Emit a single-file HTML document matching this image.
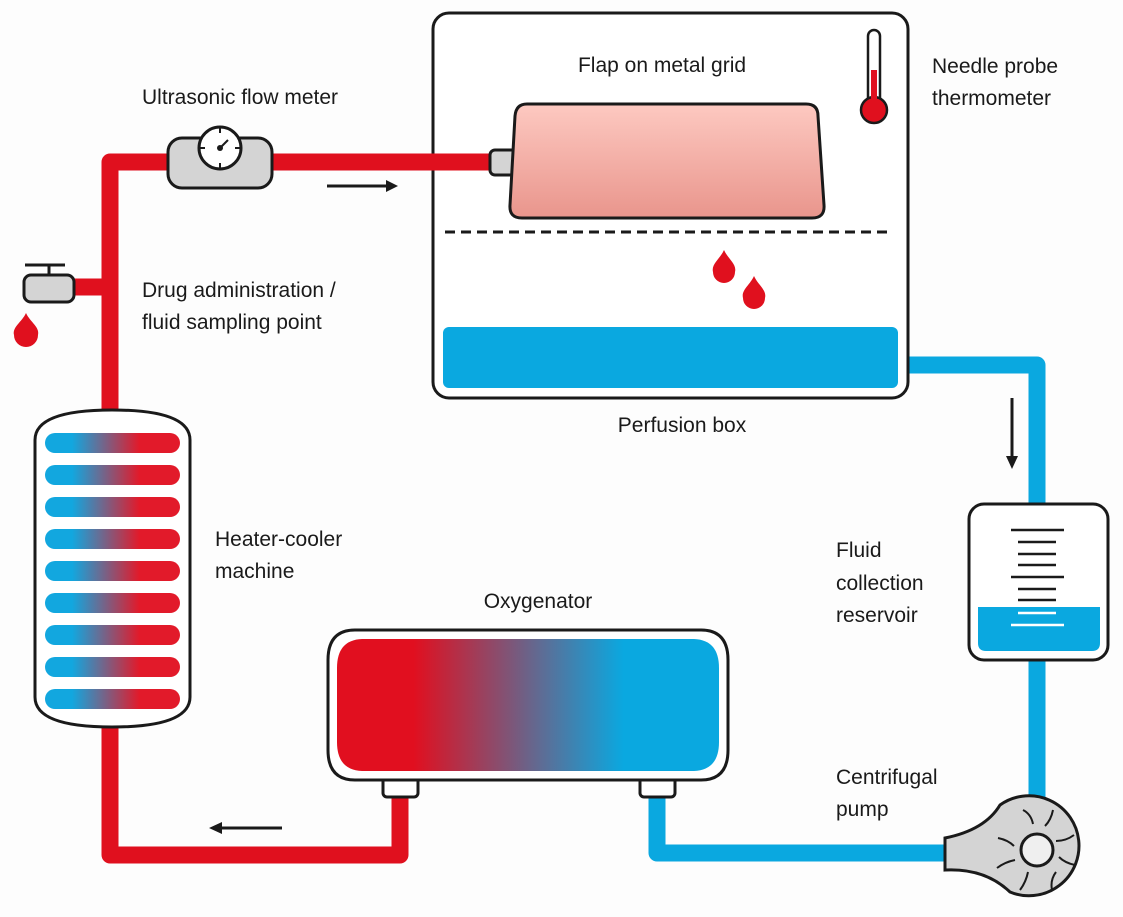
<!DOCTYPE html>
<html><head><meta charset="utf-8"><style>
html,body{margin:0;padding:0;background:#fdfdfd}
svg{display:block}
text{font-family:"Liberation Sans",sans-serif;font-size:21px;fill:#1a1a1a}
</style></head><body>
<svg width="1123" height="917" viewBox="0 0 1123 917" xmlns="http://www.w3.org/2000/svg">
<defs>
<linearGradient id="flap" x1="0" y1="0" x2="0" y2="1"><stop offset="0" stop-color="#fdc9c1"/><stop offset="1" stop-color="#e9958c"/></linearGradient>
<linearGradient id="tube" x1="0" y1="0" x2="1" y2="0"><stop offset="0.2" stop-color="#12a7df"/><stop offset="0.7" stop-color="#e21a2a"/></linearGradient>
<linearGradient id="oxy" x1="0" y1="0" x2="1" y2="0"><stop offset="0.2" stop-color="#e10f1f"/><stop offset="0.75" stop-color="#0aa8e0"/></linearGradient>
</defs>
<!-- red pipes -->
<g stroke="#e0101e" stroke-width="17" fill="none" stroke-linejoin="round">
<polyline points="110,415 110,162 440,162"/>
<line x1="110" y1="287" x2="70" y2="287"/>
<polyline points="110,725 110,855 400,855 400,790"/>
</g>
<!-- blue pipes -->
<g stroke="#0aa8e0" stroke-width="17" fill="none" stroke-linejoin="round">
<polyline points="895,365 1037,365 1037,510"/>
<line x1="1037" y1="655" x2="1037" y2="805"/>
<polyline points="950,853 657,853 657,790"/>
</g>
<!-- flow meter -->
<rect x="168" y="138" width="104" height="50" rx="14" fill="#d4d4d4" stroke="#1a1a1a" stroke-width="3"/>
<circle cx="220" cy="148" r="21" fill="#fff" stroke="#1a1a1a" stroke-width="3"/>
<g stroke="#1a1a1a" stroke-width="2"><line x1="220" y1="128" x2="220" y2="133"/><line x1="220" y1="163" x2="220" y2="168"/><line x1="200" y1="148" x2="205" y2="148"/><line x1="235" y1="148" x2="240" y2="148"/><line x1="220" y1="148" x2="228" y2="140"/></g>
<circle cx="220" cy="148" r="3" fill="#1a1a1a"/>
<!-- arrows -->
<line x1="327" y1="186" x2="388" y2="186" stroke="#1a1a1a" stroke-width="3"/><polygon points="386,180 398,186 386,192" fill="#1a1a1a"/>
<line x1="1012" y1="398" x2="1012" y2="458" stroke="#1a1a1a" stroke-width="3"/><polygon points="1006,456 1012,469 1018,456" fill="#1a1a1a"/>
<line x1="282" y1="828" x2="220" y2="828" stroke="#1a1a1a" stroke-width="3"/><polygon points="222,822 209,828 222,834" fill="#1a1a1a"/>
<!-- tap -->
<line x1="25" y1="265" x2="65" y2="265" stroke="#1a1a1a" stroke-width="3"/><line x1="49" y1="265" x2="49" y2="275" stroke="#1a1a1a" stroke-width="3"/>
<rect x="24" y="275" width="50" height="27" rx="7" fill="#d4d4d4" stroke="#1a1a1a" stroke-width="3"/>
<path d="M26,313 C30,322 40,327 38,335 A12,12 0 1 1 14,335 C12,327 22,322 26,313Z" fill="#e0101e"/>
<!-- perfusion box -->
<rect x="433" y="13" width="475" height="385" rx="16" fill="#fff" stroke="#1a1a1a" stroke-width="3"/>
<line x1="430" y1="162" x2="495" y2="162" stroke="#e0101e" stroke-width="17"/>
<rect x="443" y="327" width="455" height="61" rx="6" fill="#0aa8e0"/>
<line x1="445" y1="232" x2="890" y2="232" stroke="#1a1a1a" stroke-width="3" stroke-dasharray="10,6"/>
<rect x="490" y="150" width="30" height="25" rx="5" fill="#d4d4d4" stroke="#1a1a1a" stroke-width="3"/>
<path d="M527,104 L806,104 Q818,104 818,116 L824,205 Q825,218 812,218 L522,218 Q509,218 510,205 L515,116 Q516,104 527,104Z" fill="url(#flap)" stroke="#1a1a1a" stroke-width="3"/>
<path d="M724,250 C728,259 737,264 735,272 A11,11 0 1 1 713,272 C711,264 720,259 724,250Z" fill="#e0101e"/>
<path d="M754,276 C758,285 767,290 765,298 A11,11 0 1 1 743,298 C741,290 750,285 754,276Z" fill="#e0101e"/>
<!-- thermometer -->
<rect x="868" y="30" width="12" height="80" rx="6" fill="#fff" stroke="#1a1a1a" stroke-width="2.5"/>
<circle cx="874" cy="110" r="13" fill="#e0101e" stroke="#1a1a1a" stroke-width="2.5"/>
<rect x="871" y="70" width="6" height="35" fill="#e0101e"/>
<!-- heater -->
<path d="M35,440 Q35,410 112,410 Q190,410 190,440 L190,697 Q190,727 112,727 Q35,727 35,697Z" fill="#fff" stroke="#1a1a1a" stroke-width="3"/>
<g fill="url(#tube)">
<rect x="45" y="433" width="135" height="20" rx="10"/><rect x="45" y="465" width="135" height="20" rx="10"/><rect x="45" y="497" width="135" height="20" rx="10"/><rect x="45" y="529" width="135" height="20" rx="10"/><rect x="45" y="561" width="135" height="20" rx="10"/><rect x="45" y="593" width="135" height="20" rx="10"/><rect x="45" y="625" width="135" height="20" rx="10"/><rect x="45" y="657" width="135" height="20" rx="10"/><rect x="45" y="689" width="135" height="20" rx="10"/>
</g>
<!-- oxygenator -->
<rect x="383" y="776" width="35" height="21" rx="4" fill="#fff" stroke="#1a1a1a" stroke-width="3"/>
<rect x="640" y="776" width="35" height="21" rx="4" fill="#fff" stroke="#1a1a1a" stroke-width="3"/>
<path d="M355,630 L701,630 Q728,630 728,660 L728,750 Q728,780 701,780 L355,780 Q328,780 328,750 L328,660 Q328,630 355,630Z" fill="#fff" stroke="#1a1a1a" stroke-width="3"/>
<path d="M362,639 L694,639 Q719,640 719,668 L719,742 Q719,770 694,771 L362,771 Q337,770 337,742 L337,668 Q337,640 362,639Z" fill="url(#oxy)"/>
<!-- reservoir -->
<rect x="969" y="504" width="139" height="156" rx="15" fill="#fff" stroke="#1a1a1a" stroke-width="3"/>
<path d="M978,607 L1100,607 L1100,643 Q1100,651 1092,651 L986,651 Q978,651 978,643Z" fill="#0aa8e0"/>
<g stroke="#1a1a1a" stroke-width="2.5"><line x1="1011" y1="530" x2="1064" y2="530"/><line x1="1018" y1="542" x2="1056" y2="542"/><line x1="1018" y1="554" x2="1056" y2="554"/><line x1="1018" y1="565" x2="1056" y2="565"/><line x1="1011" y1="577" x2="1064" y2="577"/><line x1="1018" y1="589" x2="1056" y2="589"/><line x1="1018" y1="600" x2="1056" y2="600"/></g>
<g stroke="#fff" stroke-width="2.5"><line x1="1018" y1="613" x2="1056" y2="613"/><line x1="1011" y1="625" x2="1064" y2="625"/></g>
<!-- pump -->
<path d="M945,838 Q985,830 1000,805 A50,50 0 1 1 1010,892 Q985,868 945,870Z" fill="#d4d4d4" stroke="#1a1a1a" stroke-width="3"/>
<circle cx="1037" cy="850" r="16" fill="#efefef" stroke="#1a1a1a" stroke-width="3"/>
<g stroke="#1a1a1a" stroke-width="2" fill="none">
<path d="M1023,810 q8,4 10,14"/><path d="M1053,810 q-2,10 -8,16"/><path d="M1074,835 q-8,6 -18,6"/><path d="M1075,865 q-10,-2 -16,-8"/><path d="M1052,890 q-2,-10 4,-18"/><path d="M1020,890 q6,-8 8,-18"/><path d="M997,868 q8,-6 18,-8"/><path d="M998,838 q10,2 16,8"/>
</g>
<!-- labels -->
<text x="142" y="104">Ultrasonic flow meter</text>
<text x="662" y="72" text-anchor="middle">Flap on metal grid</text>
<text x="932" y="73">Needle probe</text>
<text x="932" y="105">thermometer</text>
<text x="142" y="297">Drug administration /</text>
<text x="142" y="329">fluid sampling point</text>
<text x="682" y="432" text-anchor="middle">Perfusion box</text>
<text x="215" y="546">Heater-cooler</text>
<text x="215" y="578">machine</text>
<text x="538" y="608" text-anchor="middle">Oxygenator</text>
<text x="836" y="557">Fluid</text>
<text x="836" y="590">collection</text>
<text x="836" y="622">reservoir</text>
<text x="836" y="784">Centrifugal</text>
<text x="836" y="816">pump</text>
</svg>
</body></html>
